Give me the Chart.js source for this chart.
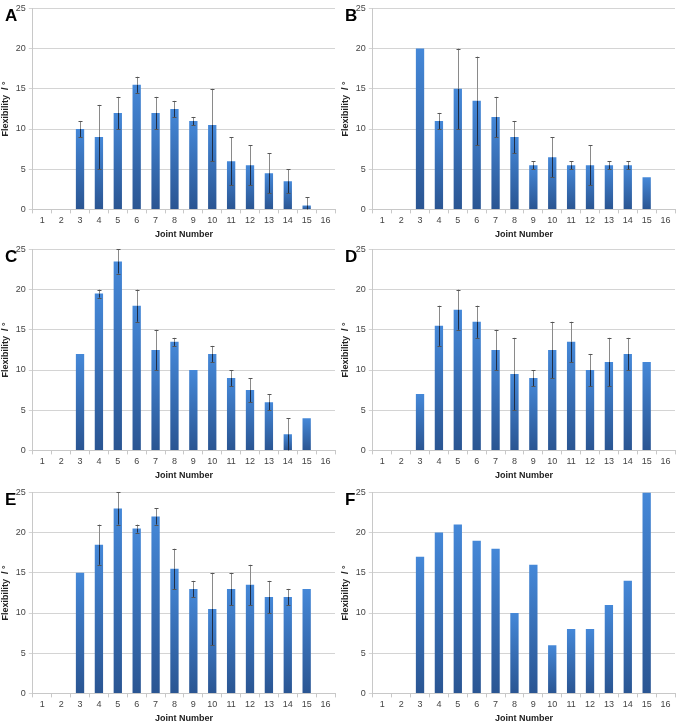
<!DOCTYPE html>
<html>
<head>
<meta charset="utf-8">
<script src="https://cdn.jsdelivr.net/npm/chart.js@4.4.1/dist/chart.umd.min.js"></script>
<style>
  body { margin: 0; background: #fff; width: 683px; height: 728px; position: relative; overflow: hidden; }
  .panel { position: absolute; width: 341px; height: 242px; }
  .panel canvas { position: absolute; left: 0; top: 0; }
  .tag { position: absolute; left: 5px; top: 6px; font: bold 17px "Liberation Sans", Arial, sans-serif; color: #000; z-index: 2; }
</style>
</head>
<body>
<div class="panel" style="left:0;top:0"><div class="tag">A</div><canvas id="chartA" width="341" height="242"></canvas></div>
<div class="panel" style="left:340px;top:0"><div class="tag">B</div><canvas id="chartB" width="341" height="242"></canvas></div>
<div class="panel" style="left:0;top:241px"><div class="tag">C</div><canvas id="chartC" width="341" height="242"></canvas></div>
<div class="panel" style="left:340px;top:241px"><div class="tag">D</div><canvas id="chartD" width="341" height="242"></canvas></div>
<div class="panel" style="left:0;top:484px"><div class="tag">E</div><canvas id="chartE" width="341" height="242"></canvas></div>
<div class="panel" style="left:340px;top:484px"><div class="tag">F</div><canvas id="chartF" width="341" height="242"></canvas></div>
<script>
// joint numbers along the x axis
const joints = ['1', '2', '3', '4', '5', '6', '7', '8', '9', '10', '11', '12', '13', '14', '15', '16'];
const yTicks = [0, 5, 10, 15, 20, 25];

// mean flexibility per joint (degrees)
const flexA = [null, null, 10, 9, 12, 15.5, 12, 12.5, 11, 10.5, 6, 5.5, 4.5, 3.5, 0.5, null];
const flexB = [null, null, 20, 11, 15, 13.5, 11.5, 9, 5.5, 6.5, 5.5, 5.5, 5.5, 5.5, 4, null];
const flexC = [null, null, 12, 19.5, 23.5, 18, 12.5, 13.5, 10, 12, 9, 7.5, 6, 2, 4, null];
const flexD = [null, null, 7, 15.5, 17.5, 16, 12.5, 9.5, 9, 12.5, 13.5, 10, 11, 12, 11, null];
const flexE = [null, null, 15, 18.5, 23, 20.5, 22, 15.5, 13, 10.5, 13, 13.5, 12, 12, 13, null];
const flexF = [null, null, 17, 20, 21, 19, 18, 10, 16, 6, 8, 8, 11, 14, 25, null];

// error bar half-widths
const errA = [null, null, 1, 4, 2, 1, 2, 1, 0.5, 4.5, 3, 2.5, 2.5, 1.5, 1, null];
const errB = [null, null, 0, 1, 5, 5.5, 2.5, 2, 0.5, 2.5, 0.5, 2.5, 0.5, 0.5, 0, null];
const errC = [null, null, 0, 0.5, 1.5, 2, 2.5, 0.5, 0, 1, 1, 1.5, 1, 2, 0, null];
const errD = [null, null, 0, 2.5, 2.5, 2, 2.5, 4.5, 1, 3.5, 2.5, 2, 3, 2, 0, null];
const errE = [null, null, 0, 2.5, 2, 0.5, 1, 2.5, 1, 4.5, 2, 2.5, 2, 1, 0, null];
const errF = null;

const FONT = '"Liberation Sans", Arial, sans-serif';

// draws error bars from the dataset's err array using the chart scales
const errorBars = {
    id: 'errorBars',
    afterDatasetsDraw(chart) {
        const errs = chart.config.options.plugins.errorBars.err;
        if (!errs) return;
        const { ctx, scales } = chart;
        const meta = chart.getDatasetMeta(0);
        const vals = chart.data.datasets[0].data;
        ctx.save();
        ctx.lineWidth = 1;
        meta.data.forEach((bar, i) => {
            const e = errs[i];
            if (vals[i] == null || !e) return;
            const x = Math.round(bar.x) + 0.5;
            const lo = scales.y.getPixelForValue(Math.max(0, vals[i] - e));
            const hi = scales.y.getPixelForValue(vals[i] + e);
            const top = scales.y.getPixelForValue(vals[i]);
            ctx.strokeStyle = '#8a8a8a';
            ctx.beginPath(); ctx.moveTo(x, hi); ctx.lineTo(x, top); ctx.stroke();
            ctx.strokeStyle = '#1e2c44';
            ctx.beginPath(); ctx.moveTo(x, top); ctx.lineTo(x, lo); ctx.stroke();
            ctx.strokeStyle = '#555';
            ctx.beginPath();
            ctx.moveTo(x - 2, Math.round(hi) + 0.5); ctx.lineTo(x + 2, Math.round(hi) + 0.5);
            if (vals[i] - e > 0) { ctx.moveTo(x - 2, Math.round(lo) + 0.5); ctx.lineTo(x + 2, Math.round(lo) + 0.5); }
            ctx.stroke();
        });
        ctx.restore();
    }
};

function barFill(context) {
    const chart = context.chart;
    if (!chart.chartArea || context.raw == null) return '#3a74bd';
    const y = chart.scales.y;
    const g = chart.ctx.createLinearGradient(0, y.getPixelForValue(context.raw), 0, y.getPixelForValue(0));
    g.addColorStop(0, '#4588d8');
    g.addColorStop(1, '#2a5592');
    return g;
}

function makeChart(id, values, errs) {
    new Chart(document.getElementById(id), {
        type: 'bar',
        data: {
            labels: joints,
            datasets: [{
                data: values,
                backgroundColor: barFill,
                borderWidth: 0,
                barPercentage: 0.44,
                categoryPercentage: 1
            }]
        },
        options: {
            responsive: false,
            animation: false,
            layout: { padding: { left: 0, right: 6, top: 5, bottom: 2 } },
            plugins: {
                legend: { display: false },
                tooltip: { enabled: false },
                errorBars: { err: errs }
            },
            scales: {
                x: {
                    offset: true,
                    grid: { offset: true, drawOnChartArea: false, color: '#c8c8c8', tickLength: 4 },
                    border: { color: '#c8c8c8' },
                    ticks: { color: '#444', font: { family: FONT, size: 9 }, padding: 2, maxRotation: 0, autoSkip: false },
                    title: { display: true, text: 'Joint Number', color: '#222', font: { family: FONT, size: 9, weight: 'bold' }, padding: { top: 1, bottom: 0 } }
                },
                y: {
                    min: 0,
                    max: 25,
                    afterBuildTicks: axis => { axis.ticks = yTicks.map(v => ({ value: v })); },
                    grid: { color: '#d4d4d4', tickLength: 4 },
                    border: { color: '#c8c8c8' },
                    ticks: { color: '#444', font: { family: FONT, size: 9 }, padding: 3 },
                    title: { display: true, text: 'Flexibility  / °', color: '#222', font: { family: FONT, size: 9, weight: 'bold' }, padding: { top: 0, bottom: 2 } }
                }
            }
        },
        plugins: [errorBars]
    });
}

makeChart('chartA', flexA, errA);
makeChart('chartB', flexB, errB);
makeChart('chartC', flexC, errC);
makeChart('chartD', flexD, errD);
makeChart('chartE', flexE, errE);
makeChart('chartF', flexF, errF);
</script>
</body>
</html>
